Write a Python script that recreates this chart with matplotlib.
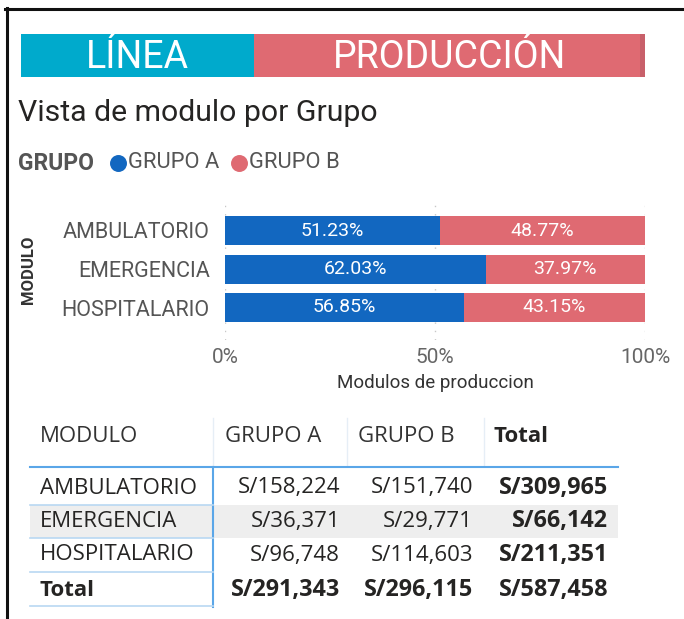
import matplotlib
matplotlib.use("Agg")
import matplotlib.pyplot as plt
from matplotlib.patches import Rectangle
from matplotlib.lines import Line2D
from matplotlib.ticker import FuncFormatter

# ---------------- data ----------------
modulos = ["AMBULATORIO", "EMERGENCIA", "HOSPITALARIO"]
pct_grupo_a = [51.23, 62.03, 56.85]
pct_grupo_b = [48.77, 37.97, 43.15]
x_ticks = [0, 50, 100]
tabla_cols = ["MODULO", "GRUPO A", "GRUPO B", "Total"]
monto_grupo_a = [158224, 36371, 96748]
monto_grupo_b = [151740, 29771, 114603]
monto_total = [309965, 66142, 211351]
total_grupo_a = 291343
total_grupo_b = 296115
total_general = 587458

BLUE = "#1267C0"
RED = "#DF6A72"
CYAN = "#00AACC"
DIN = ["Roboto", "DejaVu Sans"]
SEG = ["Open Sans", "DejaVu Sans"]

W, H = 684, 619
fig = plt.figure(figsize=(W / 100, H / 100), dpi=100)
fig.patch.set_facecolor("white")

# overlay axes in pixel coordinates
ov = fig.add_axes([0, 0, 1, 1])
ov.set_xlim(0, W)
ov.set_ylim(H, 0)
ov.axis("off")

# frame lines
ov.add_line(Line2D([5, W], [8.5, 8.5], color="#111111", lw=2.2))
ov.add_line(Line2D([6.5, 6.5], [8, H], color="#111111", lw=2.2))

# banner
ov.add_patch(Rectangle((21, 34), 233, 43, facecolor=CYAN, edgecolor="none"))
ov.add_patch(Rectangle((254, 34), 391, 43, facecolor=RED, edgecolor="none"))
ov.add_patch(Rectangle((640, 34), 5, 43, facecolor="#C8606A", edgecolor="none"))
ov.text(137.5, 57, "LÍNEA", color="white", fontsize=27, ha="center", va="center", family=DIN)
ov.text(450, 57, "PRODUCCIÓN", color="white", fontsize=27, ha="center", va="center", family=DIN)

# title
ov.text(18, 113, "Vista de modulo por Grupo", color="#252423", fontsize=21.8, ha="left", va="center", family=DIN)

# legend
LC = "#555555"
ov.text(18, 163, "GRUPO", color=LC, fontsize=16.5, fontweight="bold", ha="left", va="center", family=DIN)
ov.scatter([118], [163], s=125, color=BLUE, zorder=3)
ov.text(128, 163, "GRUPO A", color=LC, fontsize=15.8, ha="left", va="center", family=DIN)
ov.scatter([239], [163], s=125, color=RED, zorder=3)
ov.text(249, 163, "GRUPO B", color=LC, fontsize=15.8, ha="left", va="center", family=DIN)

# ---------------- bar chart ----------------
ax = fig.add_axes([225 / W, 1 - 340 / H, 420 / W, 135 / H])
ypos = list(range(len(modulos)))
bh = 29 / 38.5
ax.barh(ypos, pct_grupo_a, height=bh, color=BLUE, zorder=2)
ax.barh(ypos, pct_grupo_b, left=pct_grupo_a, height=bh, color=RED, zorder=2)
for i in ypos:
    ax.text(pct_grupo_a[i] / 2, i, f"{pct_grupo_a[i]:.2f}%", color="white", ha="center", va="center",
            fontsize=14, family=DIN)
    ax.text(pct_grupo_a[i] + pct_grupo_b[i] / 2, i, f"{pct_grupo_b[i]:.2f}%", color="white",
            ha="center", va="center", fontsize=14, family=DIN)
ax.set_xlim(0, 100)
ax.set_ylim(2 + (340 - 307.5) / 38.5, -(230.5 - 205) / 38.5)
ax.set_yticks(ypos)
ax.set_yticklabels(modulos, family=DIN, fontsize=15.5, color="#555555")
ax.set_xticks(x_ticks)
ax.xaxis.set_major_formatter(FuncFormatter(lambda v, p: f"{v:.0f}%"))
for lab in ax.get_xticklabels():
    lab.set_family(DIN)
    lab.set_fontsize(15)
    lab.set_color("#666666")
ax.tick_params(axis="both", length=0)
ax.tick_params(axis="y", pad=11)
ax.tick_params(axis="x", pad=6)
for s in ax.spines.values():
    s.set_visible(False)
ax.grid(axis="x", color="#C8C8C8", linestyle=(0, (1, 5)), lw=1, zorder=0)
ax.set_xlabel("Modulos de produccion", family=DIN, fontsize=13.5, color="#333333", labelpad=5)
ov.text(28, 270, "MODULO", rotation=90, ha="center", va="center", fontsize=12, fontweight="bold",
        color="#333333", family=DIN)

# ---------------- table ----------------
def money(v):
    return f"S/{v:,.0f}"

tc = "#252423"
fs = 16
fsb = 16.8
hy = 436
ov.text(40, hy, tabla_cols[0], ha="left", va="center", fontsize=fs, color="#333333", family=SEG)
ov.text(225, hy, tabla_cols[1], ha="left", va="center", fontsize=fs, color="#333333", family=SEG)
ov.text(358, hy, tabla_cols[2], ha="left", va="center", fontsize=fs, color="#333333", family=SEG)
ov.text(493, hy, tabla_cols[3], ha="left", va="center", fontsize=fs, color=tc, family=SEG, fontweight="bold")
for xs in (213, 347, 484):
    ov.add_line(Line2D([xs, xs], [418, 466], color="#E6EEF6", lw=1))

# grey band for second row
ov.add_patch(Rectangle((30, 505), 588, 33, facecolor="#EEEEEE", edgecolor="none", zorder=0))
ov.add_line(Line2D([30, 618], [467, 467], color="#5AA6E8", lw=1.5))
ov.add_line(Line2D([213, 213], [467, 607], color="#5AA6E8", lw=1.5))
for yl in (505, 538, 572, 606):
    ov.add_line(Line2D([30, 213], [yl, yl], color="#B9D8F2", lw=1.2))

row_y = [488, 521.5, 555]
for i, m in enumerate(modulos):
    y = row_y[i]
    ov.text(40, y, m, ha="left", va="center", fontsize=fs, color=tc, family=SEG)
    ov.text(340, y, money(monto_grupo_a[i]), ha="right", va="center", fontsize=fs, color=tc, family=SEG)
    ov.text(473, y, money(monto_grupo_b[i]), ha="right", va="center", fontsize=fs, color=tc, family=SEG)
    ov.text(608, y, money(monto_total[i]), ha="right", va="center", fontsize=fsb, color=tc, family=SEG,
            fontweight="bold")
ty = 590
ov.text(40, ty, "Total", ha="left", va="center", fontsize=fs, color=tc, family=SEG, fontweight="bold")
ov.text(340, ty, money(total_grupo_a), ha="right", va="center", fontsize=fsb, color=tc, family=SEG, fontweight="bold")
ov.text(473, ty, money(total_grupo_b), ha="right", va="center", fontsize=fsb, color=tc, family=SEG, fontweight="bold")
ov.text(608, ty, money(total_general), ha="right", va="center", fontsize=fsb, color=tc, family=SEG, fontweight="bold")

fig.savefig("out.png", dpi=100, facecolor="white")
